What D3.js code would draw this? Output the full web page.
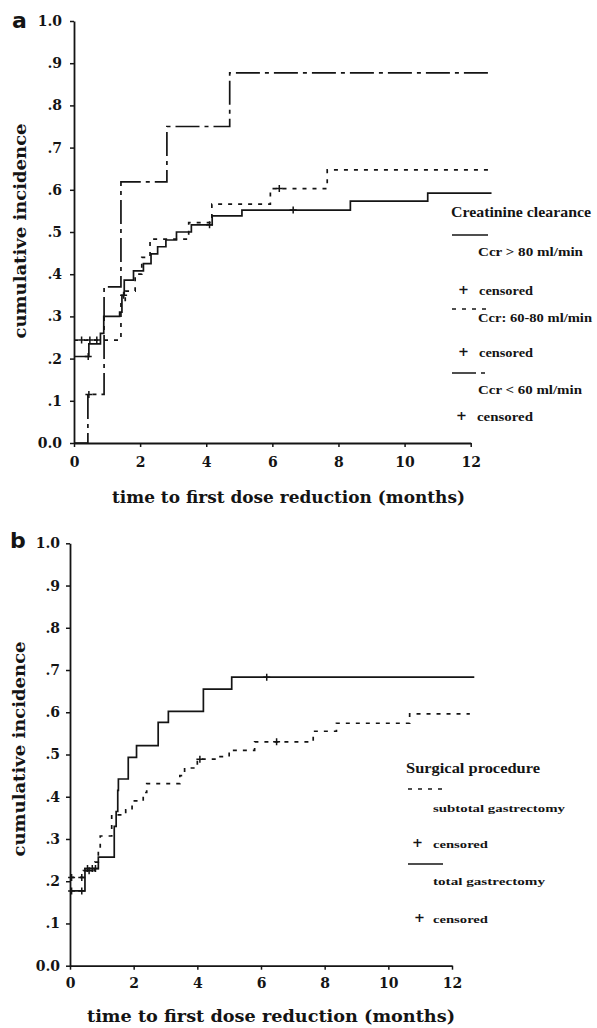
<!DOCTYPE html>
<html>
<head>
<meta charset="utf-8">
<script src="https://cdn.jsdelivr.net/npm/d3@7"></script>
<style>
  body { margin: 0; background: #fff; }
  svg { display: block; }
</style>
</head>
<body>
<svg id="chart" width="597" height="1028"></svg>
<script>
// ---- data (time in months, cumulative incidence) ----
var xTicks = [0, 2, 4, 6, 8, 10, 12];
var yTicks = [0, 0.1, 0.2, 0.3, 0.4, 0.5, 0.6, 0.7, 0.8, 0.9, 1.0];
var yTickLabels = ["0.0", ".1", ".2", ".3", ".4", ".5", ".6", ".7", ".8", ".9", "1.0"];

// panel a - creatinine clearance
var ccrAbove80 = [[0,0.205],[0.45,0.235],[0.8,0.26],[0.9,0.30],[1.38,0.31],[1.45,0.35],[1.52,0.386],[1.8,0.408],[2.1,0.425],[2.33,0.448],[2.53,0.465],[2.78,0.481],[3.1,0.50],[3.55,0.517],[4.18,0.538],[5.08,0.552],[8.36,0.573],[10.7,0.592]];
var ccrAbove80Censored = [[0.43,0.205],[1.5,0.35],[4.1,0.517],[6.63,0.552]];
var ccr60to80 = [[0,0.244],[1.42,0.33],[1.55,0.36],[1.85,0.40],[2.05,0.44],[2.3,0.483],[3.47,0.522],[4.17,0.566],[5.94,0.603],[7.66,0.647]];
var ccr60to80Censored = [[0.23,0.244],[0.48,0.244],[0.69,0.244],[6.21,0.603]];
var ccrBelow60 = [[0,0],[0.42,0.115],[0.91,0.37],[1.42,0.619],[2.81,0.75],[4.71,0.877]];
var ccrBelow60Censored = [[0.45,0.115]];
var endA = 12.63;

// panel b - surgical procedure
var subtotal = [[0,0.209],[0.42,0.225],[0.78,0.245],[0.89,0.274],[0.95,0.307],[1.31,0.357],[1.75,0.369],[1.95,0.39],[2.3,0.41],[2.41,0.431],[3.45,0.45],[3.6,0.468],[4.0,0.489],[4.6,0.495],[5.0,0.51],[5.8,0.53],[7.64,0.555],[8.37,0.574],[10.67,0.596]];
var subtotalCensored = [[0.05,0.209],[0.37,0.209],[0.6,0.225],[4.08,0.489],[6.49,0.53]];
var total = [[0,0.177],[0.47,0.23],[0.89,0.257],[1.39,0.33],[1.45,0.365],[1.5,0.415],[1.52,0.442],[1.83,0.493],[2.09,0.521],[2.77,0.576],[3.09,0.602],[4.19,0.655],[5.08,0.683]];
var totalCensored = [[0.05,0.177],[0.37,0.177],[0.55,0.23],[0.7,0.23],[0.8,0.23],[6.18,0.683]];
var endB = 12.7;
var endBSub = 12.56;

var svg = d3.select("#chart");
var serif = "'DejaVu Serif', 'Liberation Serif', serif";
var legendFont = "'Liberation Serif', 'DejaVu Serif', serif";
var ink = "#141414";

var styles = {
  solid: null,
  dotted: "4,6",
  dashdot: "24,5,4,5"
};

function drawPanel(p) {
  var x = d3.scaleLinear().domain([0, 12]).range([p.x0, p.x12]);
  var y = d3.scaleLinear().domain([0, 1]).range([p.y0, p.y1]);
  var g = svg.append("g");

  // axes
  var xAxis = d3.axisBottom(x).tickValues(xTicks).tickSize(4).tickSizeOuter(0).tickPadding(p.xPad);
  var yAxis = d3.axisLeft(y).tickValues(yTicks).tickSize(4).tickSizeOuter(0).tickPadding(p.yPad)
    .tickFormat(function(d, i) { return yTickLabels[i]; });

  var gx = g.append("g").attr("transform", "translate(0," + p.y0 + ")").call(xAxis);
  var gy = g.append("g").attr("transform", "translate(" + p.x0 + ",0)").call(yAxis);
  [gx, gy].forEach(function(a) {
    a.select(".domain").attr("stroke", ink).attr("stroke-width", 1.8);
    a.selectAll(".tick line").attr("stroke", ink).attr("stroke-width", 1.5);
    a.selectAll(".tick text").attr("fill", ink)
      .style("font-family", serif).style("font-weight", "bold").style("font-size", "14px");
  });

  // step lines
  var line = d3.line()
    .x(function(d) { return x(d[0]); })
    .y(function(d) { return y(d[1]); })
    .curve(d3.curveStepAfter);

  p.series.forEach(function(s) {
    var pts = s.data.concat([[s.end, s.data[s.data.length - 1][1]]]);
    g.append("path")
      .attr("d", line(pts))
      .attr("fill", "none")
      .attr("stroke", ink)
      .attr("stroke-width", 1.7)
      .attr("stroke-dasharray", styles[s.style]);
    // censored marks
    s.censored.forEach(function(c) {
      var cx = x(c[0]), cy = y(c[1]);
      g.append("path")
        .attr("d", "M" + (cx - 3.5) + "," + cy + "H" + (cx + 3.5) + "M" + cx + "," + (cy - 3.5) + "V" + (cy + 3.5))
        .attr("stroke", ink).attr("stroke-width", 1.5);
    });
  });

  // panel letter
  g.append("text").attr("x", p.letterX).attr("y", p.letterY)
    .style("font-family", "'DejaVu Sans', sans-serif").style("font-weight", "bold")
    .style("font-size", "22px").attr("fill", ink).text(p.letter);

  // axis titles
  g.append("text").attr("x", p.xt[0]).attr("y", p.xt[1])
    .attr("textLength", p.xt[2]).attr("lengthAdjust", "spacingAndGlyphs")
    .style("font-family", serif).style("font-weight", "bold").style("font-size", "16px")
    .attr("fill", ink).text("time to first dose reduction (months)");
  g.append("text")
    .attr("transform", "translate(" + p.yt[0] + "," + p.yt[1] + ") rotate(-90)")
    .attr("text-anchor", "middle").attr("textLength", 215).attr("lengthAdjust", "spacingAndGlyphs")
    .style("font-family", serif).style("font-weight", "bold").style("font-size", "17px")
    .attr("fill", ink).text("cumulative incidence");

  // legend
  p.legend.forEach(function(it) {
    if (it.sample !== undefined) {
      g.append("line").attr("x1", it.sx[0]).attr("x2", it.sx[1]).attr("y1", it.y).attr("y2", it.y)
        .attr("stroke", ink).attr("stroke-width", 1.5)
        .attr("stroke-dasharray", styles[it.sample]);
    } else {
      var plus = it.text === "+";
      var t = g.append("text").attr("x", it.x).attr("y", it.y + it.size * 0.34)
        .style("font-family", plus ? serif : legendFont).style("font-size", it.size + "px")
        .style("font-weight", "bold")
        .attr("fill", ink).text(it.text);
      if (it.w) t.attr("textLength", it.w).attr("lengthAdjust", "spacingAndGlyphs");
    }
  });
}

drawPanel({
  letter: "a", letterX: 12, letterY: 28,
  x0: 74, x12: 470.7, y0: 443, y1: 21, xPad: 10, yPad: 8,
  xt: [112, 503, 353], yt: [26, 231],
  series: [
    { data: ccrAbove80, censored: ccrAbove80Censored, style: "solid", end: endA },
    { data: ccr60to80, censored: ccr60to80Censored, style: "dotted", end: endA },
    { data: ccrBelow60, censored: ccrBelow60Censored, style: "dashdot", end: endA }
  ],
  legend: [
    { text: "Creatinine clearance", x: 451, y: 212, size: 14, w: 140 },
    { sample: "solid", sx: [452, 488], y: 235 },
    { text: "Ccr > 80 ml/min", x: 478, y: 252, size: 12, w: 105 },
    { text: "+", x: 458, y: 290, size: 13 },
    { text: "censored", x: 479, y: 291, size: 12, w: 54 },
    { sample: "dotted", sx: [452, 490], y: 309 },
    { text: "Ccr: 60-80 ml/min", x: 478, y: 318, size: 12, w: 114 },
    { text: "+", x: 458, y: 352, size: 13 },
    { text: "censored", x: 479, y: 353, size: 12, w: 54 },
    { sample: "dashdot", sx: [452, 490], y: 373 },
    { text: "Ccr < 60 ml/min", x: 478, y: 390, size: 12, w: 104 },
    { text: "+", x: 456, y: 416, size: 13 },
    { text: "censored", x: 477, y: 417, size: 12, w: 56 }
  ]
});

drawPanel({
  letter: "b", letterX: 10, letterY: 548,
  x0: 70, x12: 452, y0: 965.7, y1: 543.3, xPad: 8, yPad: 6,
  xt: [87, 1022, 368], yt: [25, 749],
  series: [
    { data: total, censored: totalCensored, style: "solid", end: endB },
    { data: subtotal, censored: subtotalCensored, style: "dotted", end: endBSub }
  ],
  legend: [
    { text: "Surgical procedure", x: 406, y: 768, size: 14, w: 134 },
    { sample: "dotted", sx: [408, 446], y: 789 },
    { text: "subtotal gastrectomy", x: 433, y: 808, size: 11, w: 132 },
    { text: "+", x: 412, y: 843, size: 13 },
    { text: "censored", x: 433, y: 844, size: 11, w: 55 },
    { sample: "solid", sx: [408, 443], y: 864 },
    { text: "total gastrectomy", x: 433, y: 881, size: 11, w: 112 },
    { text: "+", x: 414, y: 918, size: 13 },
    { text: "censored", x: 433, y: 919, size: 11, w: 55 }
  ]
});
</script>
</body>
</html>
